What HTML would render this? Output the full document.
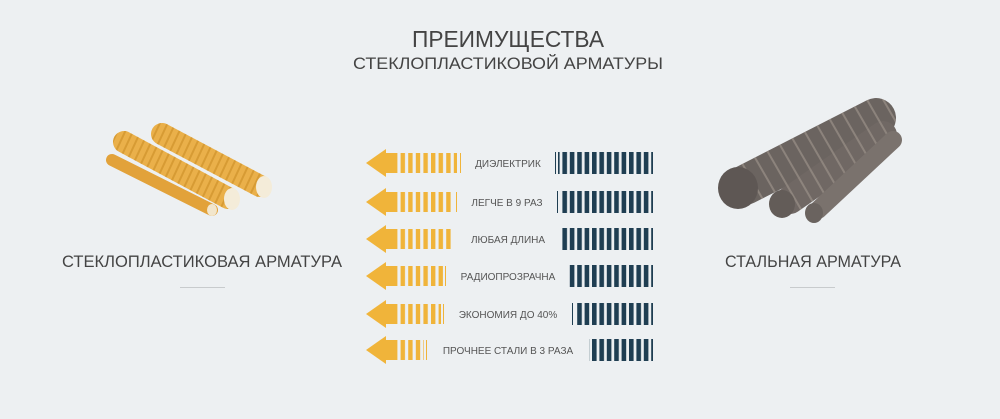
<!DOCTYPE html>
<html><head><meta charset="utf-8"><style>
html,body{margin:0;padding:0;background:#edf0f2;}
body{width:1000px;height:419px;overflow:hidden;position:relative;font-family:"Liberation Sans",sans-serif;}
</style></head><body>
<svg width="1000" height="419" xmlns="http://www.w3.org/2000/svg" style="position:absolute;left:0;top:0">
<defs>
<pattern id="yb" x="393" y="0" width="7.6" height="50" patternUnits="userSpaceOnUse"><rect x="0" y="0" width="4.4" height="50" fill="#f0b43a"/></pattern>
<pattern id="db" x="0" y="0" width="7.4" height="50" patternUnits="userSpaceOnUse"><rect x="0" y="0" width="4.6" height="50" fill="#1f3e52"/></pattern>
<pattern id="rib" width="7" height="40" patternUnits="userSpaceOnUse" patternTransform="rotate(25)"><rect width="2" height="40" fill="#c98d25" opacity="0.6"/></pattern>
<pattern id="srib" width="14" height="60" patternUnits="userSpaceOnUse" patternTransform="rotate(-30)"><rect width="2" height="60" fill="#9a9088" opacity="0.7"/></pattern>
</defs>
<text x="508" y="47" text-anchor="middle" font-size="23" fill="#444" textLength="192" lengthAdjust="spacingAndGlyphs">ПРЕИМУЩЕСТВА</text>
<text x="508" y="69" text-anchor="middle" font-size="17" fill="#444" textLength="310" lengthAdjust="spacingAndGlyphs">СТЕКЛОПЛАСТИКОВОЙ АРМАТУРЫ</text>

<g stroke-linecap="round">
<line x1="112" y1="160" x2="212" y2="210" stroke="#e2a23a" stroke-width="12"/>
<line x1="124" y1="142" x2="228" y2="198" stroke="#eab04a" stroke-width="22"/>
<line x1="124" y1="142" x2="228" y2="198" stroke="url(#rib)" stroke-width="22"/>
<line x1="162" y1="134" x2="260" y2="186" stroke="#eab04a" stroke-width="22"/>
<line x1="162" y1="134" x2="260" y2="186" stroke="url(#rib)" stroke-width="22"/>
</g>
<ellipse cx="212" cy="210" rx="5" ry="6" fill="#f2e6cc"/>
<ellipse cx="232" cy="199" rx="8" ry="11" fill="#f4ecd9"/>
<ellipse cx="264" cy="187" rx="8" ry="11" fill="#f4ecd9"/>

<g stroke-linecap="round">
<line x1="745" y1="185" x2="876" y2="118" stroke="#6b6460" stroke-width="40"/>
<line x1="745" y1="185" x2="876" y2="118" stroke="url(#srib)" stroke-width="40"/>
<line x1="790" y1="200" x2="883" y2="135" stroke="#706864" stroke-width="28"/>
<line x1="790" y1="200" x2="883" y2="135" stroke="url(#srib)" stroke-width="28"/>
<line x1="818" y1="210" x2="893" y2="140" stroke="#7a726d" stroke-width="18"/>
</g>
<ellipse cx="738" cy="188" rx="20" ry="21" fill="#5e5754"/>
<ellipse cx="782" cy="204" rx="13" ry="14" fill="#635c58"/>
<ellipse cx="814" cy="213" rx="9" ry="10" fill="#6a635f"/>

<text x="202" y="267" text-anchor="middle" font-size="17" fill="#444" textLength="280" lengthAdjust="spacingAndGlyphs">СТЕКЛОПЛАСТИКОВАЯ АРМАТУРА</text>
<rect x="180" y="287" width="45" height="1" fill="#c8cbcd"/>
<text x="813" y="267" text-anchor="middle" font-size="17" fill="#444" textLength="176" lengthAdjust="spacingAndGlyphs">СТАЛЬНАЯ АРМАТУРА</text>
<rect x="790" y="287" width="45" height="1" fill="#c8cbcd"/>

<g font-size="10" fill="#555" text-anchor="middle">
<g transform="translate(0,163)">
<polygon points="366,0 386,-14 386,14" fill="#f0b43a"/><rect x="385" y="-10" width="8" height="20" fill="#f0b43a"/>
<rect x="393" y="-10" width="64" height="20" fill="url(#yb)"/><rect x="460" y="-10" width="1" height="20" fill="#f0b43a"/>
<text x="508" y="4">ДИЭЛЕКТРИК</text>
<rect x="555" y="-11" width="1" height="22" fill="#1f3e52"/><rect x="558" y="-11" width="95" height="22" fill="url(#db)"/>
</g>
<g transform="translate(0,202)">
<polygon points="366,0 386,-14 386,14" fill="#f0b43a"/><rect x="385" y="-10" width="8" height="20" fill="#f0b43a"/>
<rect x="393" y="-10" width="60" height="20" fill="url(#yb)"/><rect x="456" y="-10" width="1" height="20" fill="#f0b43a"/>
<text x="507" y="4">ЛЕГЧЕ В 9 РАЗ</text>
<rect x="557" y="-11" width="1" height="22" fill="#1f3e52"/><rect x="560" y="-11" width="93" height="22" fill="url(#db)"/>
</g>
<g transform="translate(0,239)">
<polygon points="366,0 386,-14 386,14" fill="#f0b43a"/><rect x="385" y="-10" width="8" height="20" fill="#f0b43a"/>
<rect x="393" y="-10" width="60" height="20" fill="url(#yb)"/>
<text x="508" y="4">ЛЮБАЯ ДЛИНА</text>
<rect x="560" y="-11" width="93" height="22" fill="url(#db)"/>
</g>
<g transform="translate(0,276)">
<polygon points="366,0 386,-14 386,14" fill="#f0b43a"/><rect x="385" y="-10" width="8" height="20" fill="#f0b43a"/>
<rect x="393" y="-10" width="50" height="20" fill="url(#yb)"/><rect x="445" y="-10" width="1" height="20" fill="#f0b43a"/>
<text x="508" y="4">РАДИОПРОЗРАЧНА</text>
<rect x="568" y="-11" width="85" height="22" fill="url(#db)"/>
</g>
<g transform="translate(0,314)">
<polygon points="366,0 386,-14 386,14" fill="#f0b43a"/><rect x="385" y="-10" width="8" height="20" fill="#f0b43a"/>
<rect x="393" y="-10" width="48" height="20" fill="url(#yb)"/><rect x="443" y="-10" width="1" height="20" fill="#f0b43a"/>
<text x="508" y="4">ЭКОНОМИЯ ДО 40%</text>
<rect x="572" y="-11" width="1" height="22" fill="#1f3e52"/><rect x="575" y="-11" width="78" height="22" fill="url(#db)"/>
</g>
<g transform="translate(0,350)">
<polygon points="366,0 386,-14 386,14" fill="#f0b43a"/><rect x="385" y="-10" width="8" height="20" fill="#f0b43a"/>
<rect x="393" y="-10" width="31" height="20" fill="url(#yb)"/><rect x="426" y="-10" width="1" height="20" fill="#f0b43a"/>
<text x="508" y="4">ПРОЧНЕЕ СТАЛИ В 3 РАЗА</text>
<rect x="589" y="-11" width="64" height="22" fill="url(#db)"/>
</g>
</g>
</svg>
</body></html>
